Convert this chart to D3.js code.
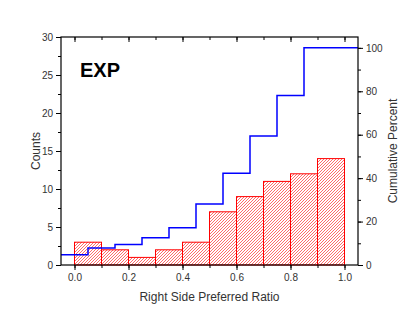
<!DOCTYPE html>
<html>
<head>
<meta charset="utf-8">
<script src="https://cdn.jsdelivr.net/npm/d3@7"></script>
<style>
  body { margin: 0; background: #fff; }
  svg { display: block; font-family: "Liberation Sans", Arial, sans-serif; }
</style>
</head>
<body>
<svg id="chart"></svg>
<script>
// histogram bins (start of each 0.1-wide bin) and counts
const binStarts = [0.0, 0.1, 0.2, 0.3, 0.4, 0.5, 0.6, 0.7, 0.8, 0.9]
const counts = [3, 2, 1, 2, 3, 7, 9, 11, 12, 14]

// cumulative percent
const cumX = [0.0, 0.1, 0.2, 0.3, 0.4, 0.5, 0.6, 0.7, 0.8, 0.9, 1.0]
const cumPercent = [4.7, 7.8, 9.4, 12.5, 17.2, 28.1, 42.2, 59.4, 78.1, 100, 100]

const xTicks = [0.0, 0.2, 0.4, 0.6, 0.8, 1.0]
const leftTicks = [0, 5, 10, 15, 20, 25, 30]
const rightTicks = [0, 20, 40, 60, 80, 100]

const svgWidth = 415
const svgHeight = 318
const margin = { left: 61, right: 57, top: 37, bottom: 53 }
const plotW = svgWidth - margin.left - margin.right
const plotH = svgHeight - margin.top - margin.bottom

const svg = d3.select('#chart')
    .attr('width', svgWidth)
    .attr('height', svgHeight)

// hatch pattern for the bars
const defs = svg.append('defs')
const pat = defs.append('pattern')
    .attr('id', 'hatch')
    .attr('patternUnits', 'userSpaceOnUse')
    .attr('width', 3)
    .attr('height', 3)
pat.append('path')
    .attr('d', 'M-1,1 l2,-2 M0,3 l3,-3 M2,4 l2,-2')
    .attr('stroke', '#ff5a5a')
    .attr('stroke-width', 0.9)

const x = d3.scaleLinear().domain([-0.05, 1.05]).range([margin.left, margin.left + plotW])
const yL = d3.scaleLinear().domain([0, 30]).range([margin.top + plotH, margin.top])
const yR = d3.scaleLinear().domain([0, 105]).range([margin.top + plotH, margin.top])

// bars
svg.append('g')
    .selectAll('rect')
    .data(binStarts)
    .join('rect')
    .attr('x', d => x(d))
    .attr('width', d => x(d + 0.1) - x(d))
    .attr('y', (d, i) => yL(counts[i]))
    .attr('height', (d, i) => yL(0) - yL(counts[i]))
    .attr('fill', 'url(#hatch)')
    .attr('stroke', '#ff0000')
    .attr('stroke-width', 1)

// cumulative step line, stretched to both plot edges
const pts = cumX.map((d, i) => [d, cumPercent[i]])
pts.unshift([x.domain()[0], cumPercent[0]])
pts.push([x.domain()[1], cumPercent[cumPercent.length - 1]])

const line = d3.line()
    .x(d => x(d[0]))
    .y(d => yR(d[1]))
    .curve(d3.curveStep)

svg.append('path')
    .datum(pts)
    .attr('d', line)
    .attr('fill', 'none')
    .attr('stroke', '#0000ff')
    .attr('stroke-width', 1.5)

// axes
const tickColor = '#000'
const labelColor = '#333'

function styleAxis(g) {
    g.selectAll('.domain').remove()
    g.selectAll('line').attr('stroke', tickColor)
    g.selectAll('text').attr('fill', labelColor).attr('font-size', '10px')
}

const xMinor = d3.range(0, 1.01, 0.1)

// bottom
svg.append('g')
    .attr('transform', `translate(0,${margin.top + plotH})`)
    .call(d3.axisBottom(x).tickValues(xMinor).tickSize(3).tickFormat(''))
    .call(styleAxis)
svg.append('g')
    .attr('transform', `translate(0,${margin.top + plotH})`)
    .call(d3.axisBottom(x).tickValues(xTicks).tickSize(5).tickPadding(4).tickFormat(d3.format('.1f')))
    .call(styleAxis)

// top (ticks inward)
svg.append('g')
    .attr('transform', `translate(0,${margin.top})`)
    .call(d3.axisBottom(x).tickValues(xMinor).tickSize(3).tickFormat(''))
    .call(styleAxis)
svg.append('g')
    .attr('transform', `translate(0,${margin.top})`)
    .call(d3.axisBottom(x).tickValues(xTicks).tickSize(5).tickFormat(''))
    .call(styleAxis)

// left
svg.append('g')
    .attr('transform', `translate(${margin.left},0)`)
    .call(d3.axisLeft(yL).tickValues(d3.range(0, 30.1, 2.5)).tickSize(3).tickFormat(''))
    .call(styleAxis)
svg.append('g')
    .attr('transform', `translate(${margin.left},0)`)
    .call(d3.axisLeft(yL).tickValues(leftTicks).tickSize(5).tickPadding(3))
    .call(styleAxis)

// right
svg.append('g')
    .attr('transform', `translate(${margin.left + plotW},0)`)
    .call(d3.axisRight(yR).tickValues(d3.range(0, 100.1, 10)).tickSize(3).tickFormat(''))
    .call(styleAxis)
svg.append('g')
    .attr('transform', `translate(${margin.left + plotW},0)`)
    .call(d3.axisRight(yR).tickValues(rightTicks).tickSize(5).tickPadding(3))
    .call(styleAxis)

// frame
svg.append('rect')
    .attr('x', margin.left)
    .attr('y', margin.top)
    .attr('width', plotW)
    .attr('height', plotH)
    .attr('fill', 'none')
    .attr('stroke', '#000')
    .attr('stroke-width', 1.2)

// titles
svg.append('text')
    .attr('transform', `translate(40,${margin.top + plotH / 2}) rotate(-90)`)
    .attr('text-anchor', 'middle')
    .attr('font-size', '12px')
    .attr('fill', labelColor)
    .text('Counts')

svg.append('text')
    .attr('transform', `translate(397,${margin.top + plotH / 2}) rotate(-90)`)
    .attr('text-anchor', 'middle')
    .attr('font-size', '12px')
    .attr('fill', labelColor)
    .text('Cumulative Percent')

svg.append('text')
    .attr('x', x(0.5))
    .attr('y', 301)
    .attr('text-anchor', 'middle')
    .attr('font-size', '12px')
    .attr('fill', labelColor)
    .text('Right Side Preferred Ratio')

svg.append('text')
    .attr('x', 80)
    .attr('y', 77)
    .attr('font-size', '20px')
    .attr('font-weight', 'bold')
    .attr('fill', '#000')
    .text('EXP')
</script>
</body>
</html>
